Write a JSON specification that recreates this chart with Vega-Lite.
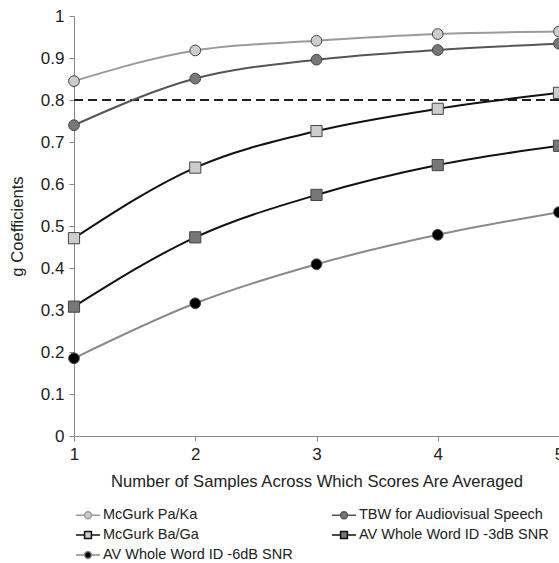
{
  "$schema": "https://vega.github.io/schema/vega-lite/v6.json",
  "width": 485,
  "height": 420,
  "autosize": {"type": "none"},
  "padding": {"left": 74, "top": 16, "right": 0, "bottom": 127},
  "background": "white",
  "config": {
    "font": "Liberation Sans",
    "view": {"stroke": null}
  },
  "data": {
    "values": [
      {"series": "McGurk Pa/Ka", "n": 1, "g": 0.845},
      {"series": "McGurk Pa/Ka", "n": 2, "g": 0.918},
      {"series": "McGurk Pa/Ka", "n": 3, "g": 0.941},
      {"series": "McGurk Pa/Ka", "n": 4, "g": 0.957},
      {"series": "McGurk Pa/Ka", "n": 5, "g": 0.963},
      {"series": "TBW for Audiovisual Speech", "n": 1, "g": 0.740},
      {"series": "TBW for Audiovisual Speech", "n": 2, "g": 0.851},
      {"series": "TBW for Audiovisual Speech", "n": 3, "g": 0.896},
      {"series": "TBW for Audiovisual Speech", "n": 4, "g": 0.919},
      {"series": "TBW for Audiovisual Speech", "n": 5, "g": 0.934},
      {"series": "McGurk Ba/Ga", "n": 1, "g": 0.471},
      {"series": "McGurk Ba/Ga", "n": 2, "g": 0.639},
      {"series": "McGurk Ba/Ga", "n": 3, "g": 0.726},
      {"series": "McGurk Ba/Ga", "n": 4, "g": 0.779},
      {"series": "McGurk Ba/Ga", "n": 5, "g": 0.817},
      {"series": "AV Whole Word ID -3dB SNR", "n": 1, "g": 0.308},
      {"series": "AV Whole Word ID -3dB SNR", "n": 2, "g": 0.473},
      {"series": "AV Whole Word ID -3dB SNR", "n": 3, "g": 0.574},
      {"series": "AV Whole Word ID -3dB SNR", "n": 4, "g": 0.645},
      {"series": "AV Whole Word ID -3dB SNR", "n": 5, "g": 0.691},
      {"series": "AV Whole Word ID -6dB SNR", "n": 1, "g": 0.185},
      {"series": "AV Whole Word ID -6dB SNR", "n": 2, "g": 0.316},
      {"series": "AV Whole Word ID -6dB SNR", "n": 3, "g": 0.409},
      {"series": "AV Whole Word ID -6dB SNR", "n": 4, "g": 0.479},
      {"series": "AV Whole Word ID -6dB SNR", "n": 5, "g": 0.533}
    ]
  },
  "encoding": {
    "x": {
      "field": "n", "type": "quantitative",
      "scale": {"domain": [1, 5], "nice": false, "zero": false},
      "axis": {
        "values": [1, 2, 3, 4, 5], "format": "d", "grid": false,
        "domainColor": "#888888", "tickColor": "#888888", "tickSize": 5,
        "labelFontSize": 17, "labelColor": "#222222", "labelPadding": 5, "labelFlush": false,
        "titleFontSize": 16.6, "titleFontWeight": "normal", "titleColor": "#222222", "titlePadding": 11
      },
      "title": "Number of Samples Across Which Scores Are Averaged"
    },
    "y": {
      "field": "g", "type": "quantitative",
      "scale": {"domain": [0, 1], "nice": false},
      "axis": {
        "values": [0, 0.1, 0.2, 0.3, 0.4, 0.5, 0.6, 0.7, 0.8, 0.9, 1], "format": "~g", "grid": false,
        "domainColor": "#888888", "tickColor": "#888888", "tickSize": 5,
        "labelFontSize": 17, "labelColor": "#222222", "labelPadding": 5, "labelFlush": false,
        "titleFontSize": 16.6, "titleFontWeight": "normal", "titleColor": "#222222", "titlePadding": 15
      },
      "title": "g Coefficients"
    }
  },
  "resolve": {"scale": {"fill": "independent", "stroke": "independent", "shape": "independent"}},
  "layer": [
    {
      "mark": {"type": "rule", "strokeDash": [9, 5], "color": "#222222", "strokeWidth": 1.3},
      "encoding": {"y": {"datum": 0.8}, "x": null}
    },
    {
      "mark": {"type": "line", "interpolate": "monotone", "strokeWidth": 2},
      "encoding": {
        "stroke": {
          "field": "series", "type": "nominal", "legend": null,
          "scale": {
            "domain": ["McGurk Pa/Ka", "TBW for Audiovisual Speech", "McGurk Ba/Ga", "AV Whole Word ID -3dB SNR", "AV Whole Word ID -6dB SNR"],
            "range": ["#9a9a9a", "#555555", "#111111", "#111111", "#8a8a8a"]
          }
        }
      }
    },
    {
      "transform": [{"filter": {"field": "series", "oneOf": ["McGurk Pa/Ka", "TBW for Audiovisual Speech", "AV Whole Word ID -6dB SNR"]}}],
      "mark": {"type": "circle", "size": 115, "opacity": 1, "stroke": "#444444", "strokeWidth": 1},
      "encoding": {
        "fill": {
          "field": "series", "type": "nominal", "legend": null,
          "scale": {
            "domain": ["McGurk Pa/Ka", "TBW for Audiovisual Speech", "McGurk Ba/Ga", "AV Whole Word ID -3dB SNR", "AV Whole Word ID -6dB SNR"],
            "range": ["#cccccc", "#777777", "#cccccc", "#777777", "#000000"]
          }
        }
      }
    },
    {
      "transform": [{"filter": {"field": "series", "oneOf": ["McGurk Ba/Ga", "AV Whole Word ID -3dB SNR"]}}],
      "mark": {"type": "square", "size": 125, "opacity": 1, "stroke": "#444444", "strokeWidth": 1},
      "encoding": {
        "fill": {
          "field": "series", "type": "nominal", "legend": null,
          "scale": {
            "domain": ["McGurk Pa/Ka", "TBW for Audiovisual Speech", "McGurk Ba/Ga", "AV Whole Word ID -3dB SNR", "AV Whole Word ID -6dB SNR"],
            "range": ["#cccccc", "#777777", "#cccccc", "#777777", "#000000"]
          }
        }
      }
    },
    {
      "mark": {"type": "point", "filled": true, "opacity": 0, "strokeWidth": 1.5},
      "encoding": {
        "shape": {
          "field": "series", "type": "nominal",
          "scale": {
            "domain": ["McGurk Pa/Ka", "TBW for Audiovisual Speech", "McGurk Ba/Ga", "AV Whole Word ID -3dB SNR", "AV Whole Word ID -6dB SNR"],
            "range": [
              "M-1.33,0H-0.38M0.38,0H1.33M-0.38,0A0.38,0.38 0 1,0 0.38,0A0.38,0.38 0 1,0 -0.38,0Z",
              "M-1.33,0H-0.38M0.38,0H1.33M-0.38,0A0.38,0.38 0 1,0 0.38,0A0.38,0.38 0 1,0 -0.38,0Z",
              "M-1.33,0H-0.38M0.38,0H1.33M-0.38,-0.38H0.38V0.38H-0.38Z",
              "M-1.33,0H-0.38M0.38,0H1.33M-0.38,-0.38H0.38V0.38H-0.38Z",
              "M-1.33,0H-0.38M0.38,0H1.33M-0.38,0A0.38,0.38 0 1,0 0.38,0A0.38,0.38 0 1,0 -0.38,0Z"
            ]
          }
        },
        "fill": {
          "field": "series", "type": "nominal",
          "scale": {
            "domain": ["McGurk Pa/Ka", "TBW for Audiovisual Speech", "McGurk Ba/Ga", "AV Whole Word ID -3dB SNR", "AV Whole Word ID -6dB SNR"],
            "range": ["#cccccc", "#777777", "#cccccc", "#777777", "#000000"]
          },
          "legend": {
            "title": null,
            "orient": "none",
            "legendX": 4,
            "legendY": 489,
            "direction": "horizontal",
            "columns": 2,
            "columnPadding": 36,
            "rowPadding": 3,
            "symbolSize": 324,
            "symbolStrokeWidth": 1.5,
            "labelFontSize": 14.5,
            "labelColor": "#222222",
            "labelOffset": 5,
            "labelLimit": 300,
            "encoding": {"symbols": {"strokeWidth": {"value": 1.5}}}
          }
        },
        "stroke": {
          "field": "series", "type": "nominal",
          "scale": {
            "domain": ["McGurk Pa/Ka", "TBW for Audiovisual Speech", "McGurk Ba/Ga", "AV Whole Word ID -3dB SNR", "AV Whole Word ID -6dB SNR"],
            "range": ["#9a9a9a", "#555555", "#111111", "#111111", "#8a8a8a"]
          }
        }
      }
    }
  ]
}
